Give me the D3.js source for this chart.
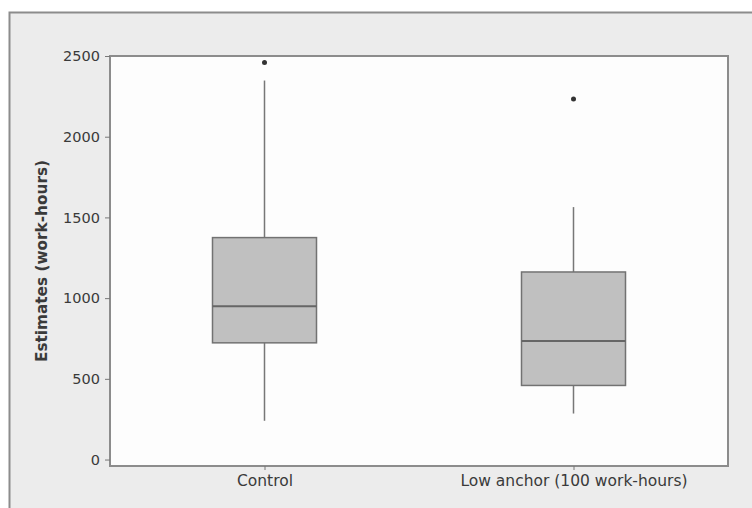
<!DOCTYPE html>
<html>
  <head>
    <script src="https://cdn.jsdelivr.net/npm/d3@7"></script>
    <style>
      body { margin: 0; background: #ffffff; }
      text { font-family: "DejaVu Sans", sans-serif; fill: #3a3a3a; }
    </style>
  </head>
  <body>
    <svg width="752" height="508" id="mainsvg"></svg>
    <script>
      const svg = d3.select('#mainsvg');
      const width = +svg.attr('width');
      const height = +svg.attr('height');
      const margin = {top: 56, right: 24, bottom: 42, left: 110};
      const innerWidth = width - margin.left - margin.right;
      const innerHeight = height - margin.top - margin.bottom;

      // values
      const categories = ['Control', 'Low anchor (100 work-hours)'];
      const whiskerLow = [240, 285];
      const q1 = [723, 459];
      const median = [950, 735];
      const q3 = [1375, 1162];
      const whiskerHigh = [2348, 1564];
      const outliers = [2460, 2233];
      const yTicks = [0, 500, 1000, 1500, 2000, 2500];

      const boxes = categories.map((c, i) => ({
        name: c, lo: whiskerLow[i], q1: q1[i], med: median[i], q3: q3[i], hi: whiskerHigh[i], out: outliers[i]
      }));

      // outer panel (runs past the picture edge like the reference)
      svg.append('rect')
        .attr('x', 9.5).attr('y', 12.5)
        .attr('width', width + 20).attr('height', height + 20)
        .attr('fill', '#ececec')
        .attr('stroke', '#8c8c8c')
        .attr('stroke-width', 2);

      const g = svg.append('g')
        .attr('transform', `translate(${margin.left}, ${margin.top})`);

      g.append('rect')
        .attr('width', innerWidth).attr('height', innerHeight)
        .attr('fill', '#fdfdfd')
        .attr('stroke', '#8c8c8c')
        .attr('stroke-width', 2);

      const xScale = d3.scalePoint()
        .domain(categories)
        .range([0, innerWidth])
        .padding(0.5);

      const yScale = d3.scaleLinear()
        .domain([-40, 2500])
        .range([innerHeight, 0]);

      const boxWidth = 104;

      // axes
      const yAxis = d3.axisLeft(yScale).tickValues(yTicks).tickFormat(d3.format('d')).tickSize(5).tickPadding(5);
      const yAxisGroup = g.append('g').call(yAxis);
      yAxisGroup.selectAll('.domain').remove();
      yAxisGroup.selectAll('.tick line').attr('stroke', '#777');
      yAxisGroup.selectAll('.tick text').attr('font-size', 14.5).style('font-family', '"DejaVu Sans", sans-serif').attr('fill', '#404040');

      const xAxis = d3.axisBottom(xScale).tickSize(4).tickPadding(5);
      const xAxisGroup = g.append('g').call(xAxis)
        .attr('transform', `translate(0, ${innerHeight})`);
      xAxisGroup.selectAll('.domain').remove();
      xAxisGroup.selectAll('.tick line').attr('stroke', '#777');
      xAxisGroup.selectAll('.tick text').attr('font-size', 15.5).style('font-family', '"DejaVu Sans", sans-serif').attr('fill', '#404040');

      g.append('text')
        .attr('transform', 'rotate(-90)')
        .attr('x', -innerHeight / 2)
        .attr('y', -63)
        .attr('text-anchor', 'middle')
        .attr('font-size', 15.3)
        .attr('font-weight', 'bold')
        .attr('fill', '#222')
        .text('Estimates (work-hours)');

      // whiskers
      g.selectAll('.whisker-up').data(boxes).join('line')
        .attr('class', 'whisker-up')
        .attr('x1', d => xScale(d.name)).attr('x2', d => xScale(d.name))
        .attr('y1', d => yScale(d.q3)).attr('y2', d => yScale(d.hi))
        .attr('stroke', '#777').attr('stroke-width', 1.5);
      g.selectAll('.whisker-down').data(boxes).join('line')
        .attr('class', 'whisker-down')
        .attr('x1', d => xScale(d.name)).attr('x2', d => xScale(d.name))
        .attr('y1', d => yScale(d.q1)).attr('y2', d => yScale(d.lo))
        .attr('stroke', '#777').attr('stroke-width', 1.5);

      // boxes
      g.selectAll('.box').data(boxes).join('rect')
        .attr('class', 'box')
        .attr('x', d => xScale(d.name) - boxWidth / 2)
        .attr('y', d => yScale(d.q3))
        .attr('width', boxWidth)
        .attr('height', d => yScale(d.q1) - yScale(d.q3))
        .attr('fill', '#c0c0c0')
        .attr('stroke', '#727272')
        .attr('stroke-width', 1.5);

      g.selectAll('.median').data(boxes).join('line')
        .attr('class', 'median')
        .attr('x1', d => xScale(d.name) - boxWidth / 2)
        .attr('x2', d => xScale(d.name) + boxWidth / 2)
        .attr('y1', d => yScale(d.med)).attr('y2', d => yScale(d.med))
        .attr('stroke', '#666').attr('stroke-width', 2);

      // outliers
      g.selectAll('.outlier').data(boxes).join('circle')
        .attr('class', 'outlier')
        .attr('cx', d => xScale(d.name))
        .attr('cy', d => yScale(d.out))
        .attr('r', 2.5)
        .attr('fill', '#333');
    </script>
  </body>
</html>
